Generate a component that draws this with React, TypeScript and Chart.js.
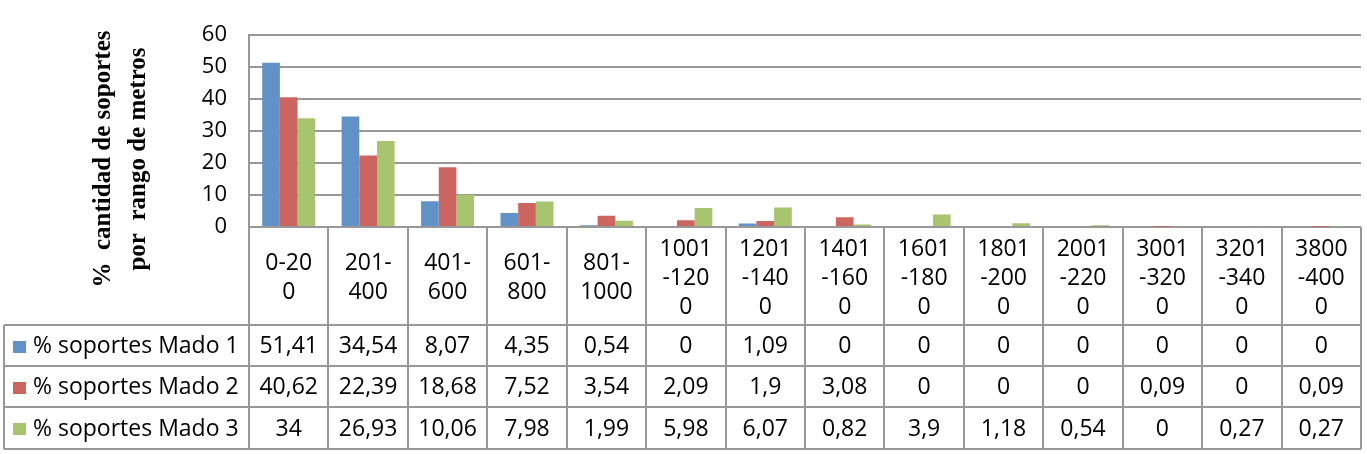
import React, { useEffect, useRef } from "react";
import { Chart, registerables } from "chart.js";

Chart.register(...registerables);

// ---- data ----
const categories: string[][] = [
  ["0-20", "0"],
  ["201-", "400"],
  ["401-", "600"],
  ["601-", "800"],
  ["801-", "1000"],
  ["1001", "-120", "0"],
  ["1201", "-140", "0"],
  ["1401", "-160", "0"],
  ["1601", "-180", "0"],
  ["1801", "-200", "0"],
  ["2001", "-220", "0"],
  ["3001", "-320", "0"],
  ["3201", "-340", "0"],
  ["3800", "-400", "0"],
];
const seriesNames = ["% soportes Mado 1", "% soportes Mado 2", "% soportes Mado 3"];
const mado1 = [51.41, 34.54, 8.07, 4.35, 0.54, 0, 1.09, 0, 0, 0, 0, 0, 0, 0];
const mado2 = [40.62, 22.39, 18.68, 7.52, 3.54, 2.09, 1.9, 3.08, 0, 0, 0, 0.09, 0, 0.09];
const mado3 = [34, 26.93, 10.06, 7.98, 1.99, 5.98, 6.07, 0.82, 3.9, 1.18, 0.54, 0, 0.27, 0.27];
const yMin = 0;
const yMax = 60;
const yStep = 10;
const yTitleLines = ["%  cantidad de soportes", "por  rango de metros"];
const seriesColors = ["#6092C8", "#CC645F", "#A9C46E"];

const allSeries = [mado1, mado2, mado3];

const TEXT_FONT = "'Open Sans', sans-serif";
const GRID = "#989898";

const fmt = (v: number) => String(v).replace(".", ",");

const tablePlugin = {
  id: "dataTable",
  afterDraw(chart: any) {
    const ctx: CanvasRenderingContext2D = chart.ctx;
    const area = chart.chartArea;
    const xs = chart.scales.x;
    const half = (xs.getPixelForValue(1) - xs.getPixelForValue(0)) / 2;
    const n = categories.length;
    const edges: number[] = [];
    for (let i = 0; i < n; i++) edges.push(xs.getPixelForValue(i) - half);
    edges.push(xs.getPixelForValue(n - 1) + half);

    const rows = [area.bottom, 325, 366, 407, 449];
    const tableLeft = 4;

    ctx.save();
    ctx.strokeStyle = GRID;
    ctx.lineWidth = 2;
    ctx.beginPath();
    for (const e of edges) {
      ctx.moveTo(Math.round(e), rows[0]);
      ctx.lineTo(Math.round(e), rows[4]);
    }
    for (let r = 1; r < rows.length; r++) {
      ctx.moveTo(tableLeft, rows[r]);
      ctx.lineTo(edges[n], rows[r]);
    }
    ctx.moveTo(tableLeft, rows[1]);
    ctx.lineTo(tableLeft, rows[4]);
    ctx.stroke();

    ctx.fillStyle = "#000";
    ctx.font = `23px ${TEXT_FONT}`;
    ctx.textAlign = "center";
    ctx.textBaseline = "middle";
    // header
    const hc = 278;
    const lh = 29;
    categories.forEach((lines, i) => {
      const cx = xs.getPixelForValue(i);
      const start = hc - ((lines.length - 1) * lh) / 2;
      lines.forEach((t, j) => ctx.fillText(t, cx, start + j * lh));
    });
    // data rows
    allSeries.forEach((vals, s) => {
      const cy = (rows[s + 1] + rows[s + 2]) / 2 + 1;
      vals.forEach((v, i) => {
        ctx.fillText(fmt(v), xs.getPixelForValue(i), cy);
      });
      ctx.fillStyle = seriesColors[s];
      ctx.fillRect(13, Math.round(cy - 6), 13, 12);
      ctx.fillStyle = "#000";
      ctx.textAlign = "left";
      ctx.fillText(seriesNames[s], 33, cy);
      ctx.textAlign = "center";
    });

    // y title
    ctx.save();
    ctx.translate(0, 159);
    ctx.rotate(-Math.PI / 2);
    ctx.font = `bold 25px 'Liberation Serif', serif`;
    ctx.textAlign = "center";
    ctx.textBaseline = "middle";
    ctx.fillText(yTitleLines[0], 0, 104);
    ctx.fillText(yTitleLines[1], 0, 139);
    ctx.restore();

    ctx.restore();
  },
};

export default function App() {
  const ref = useRef<HTMLCanvasElement | null>(null);
  useEffect(() => {
    if (!ref.current) return;
    const chart = new Chart(ref.current, {
      type: "bar",
      data: {
        labels: categories.map((c) => c.join("")),
        datasets: allSeries.map((vals, s) => ({
          label: seriesNames[s],
          data: vals,
          backgroundColor: seriesColors[s],
          borderWidth: 0,
          categoryPercentage: 0.667,
          barPercentage: 1,
        })),
      },
      options: {
        responsive: false,
        animation: false,
        devicePixelRatio: 1,
        layout: { padding: { top: 35, bottom: 227, left: 0, right: 6 } },
        plugins: { legend: { display: false }, tooltip: { enabled: false }, title: { display: false } },
        scales: {
          x: { display: false },
          y: {
            min: yMin,
            max: yMax,
            afterFit: (scale: any) => {
              scale.width = 249;
            },
            ticks: {
              stepSize: yStep,
              color: "#000",
              font: { family: TEXT_FONT, size: 22 },
              padding: 22,
            },
            grid: { color: GRID, lineWidth: 2, drawTicks: false },
            border: { display: true, color: GRID, width: 2 },
          },
        },
      },
      plugins: [tablePlugin],
    });
    return () => chart.destroy();
  }, []);
  return (
    <div style={{ position: "fixed", left: 0, top: 0, width: 1367, height: 454, background: "#fff" }}>
      <canvas ref={ref} width={1367} height={454} style={{ width: 1367, height: 454 }} />
    </div>
  );
}
